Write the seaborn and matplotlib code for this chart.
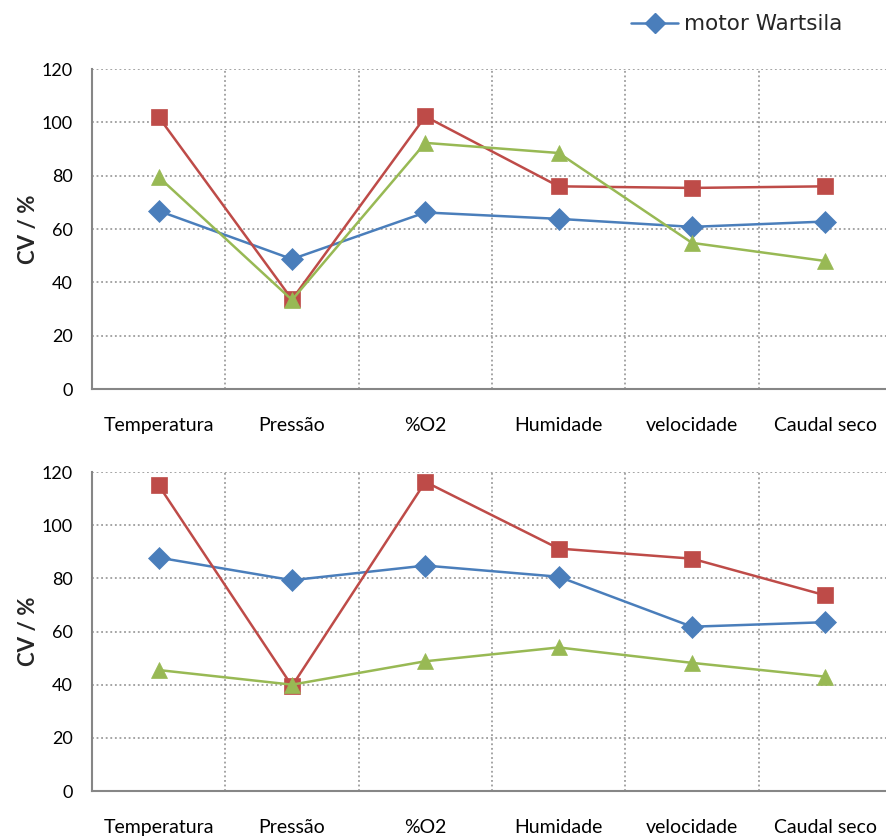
import numpy as np
import pandas as pd
import matplotlib
matplotlib.use("Agg")
import matplotlib.pyplot as plt
from matplotlib.lines import Line2D
import seaborn as sns

# Categories along the x axis
categories = ["Temperatura", "Pressão", "%O2", "Humidade", "velocidade", "Caudal seco"]

# Coefficient of variation (%) per parameter, upper panel
top_blue = [66.8, 48.7, 66.2, 63.8, 60.8, 62.8]
top_red = [102.0, 33.6, 102.2, 76.0, 75.4, 76.0]
top_green = [79.5, 33.4, 92.3, 88.5, 54.8, 48.0]

# Coefficient of variation (%) per parameter, lower panel
bot_blue = [87.8, 79.3, 84.8, 80.6, 61.8, 63.5]
bot_red = [115.0, 39.5, 116.3, 91.2, 87.4, 73.6]
bot_green = [45.5, 40.0, 48.8, 54.0, 48.2, 43.0]

legend_label = "motor Wartsila"
series_keys = ["blue", "red", "green"]
palette = {"blue": "#4A7EBB", "red": "#BE4B48", "green": "#98B954"}
markers = {"blue": "D", "red": "s", "green": "^"}

sns.set_theme(style="white")
plt.rcParams["font.family"] = ["Lato", "DejaVu Sans"]

grid_color = "#8C8C8C"
spine_color = "#868686"


def build_frame(blue, red, green):
    rows = []
    for key, vals in zip(series_keys, [blue, red, green]):
        for i, v in enumerate(vals):
            rows.append({"pos": i, "cv": v, "serie": key})
    return pd.DataFrame(rows)


fig = plt.figure(figsize=(8.86, 8.38), dpi=100)
W, H = 886, 838
ax_top = fig.add_axes([92 / W, 1 - 389 / H, (892 - 92) / W, (389 - 69) / H])
ax_bot = fig.add_axes([92 / W, 1 - 791 / H, (892 - 92) / W, (791 - 472) / H])

for ax, (b, r, g) in [(ax_top, (top_blue, top_red, top_green)),
                      (ax_bot, (bot_blue, bot_red, bot_green))]:
    df = build_frame(b, r, g)
    sns.lineplot(data=df, x="pos", y="cv", hue="serie", style="serie",
                 hue_order=series_keys, style_order=series_keys,
                 palette=palette, markers=markers, dashes=False,
                 markersize=11, linewidth=1.8, sort=False, legend=False, ax=ax)
    for ln in ax.lines:
        ln.set_markeredgecolor(ln.get_color())
        ln.set_markeredgewidth(0.5)
    ax.set_xlim(-0.5, 5.5)
    ax.set_ylim(0, 120)
    ax.set_yticks(np.arange(0, 121, 20))
    ax.set_xticks(np.arange(len(categories)))
    ax.set_xticklabels(categories)
    ax.set_xticks(np.arange(-0.5, 5.6, 1.0), minor=True)
    ax.tick_params(axis="x", which="major", length=0, pad=20, labelsize=14, colors="black")
    ax.tick_params(axis="x", which="minor", length=6, width=1.2, color=spine_color, direction="out")
    ax.tick_params(axis="y", which="major", length=6, width=1.2, color=spine_color,
                   direction="out", pad=8, labelsize=13, labelcolor="black")
    ax.grid(False)
    ax.grid(axis="y", which="major", linestyle=(0, (1.2, 1.8)), color=grid_color, linewidth=1.1)
    ax.grid(axis="x", which="minor", linestyle=(0, (1.2, 1.8)), color=grid_color, linewidth=1.1)
    ax.set_axisbelow(True)
    for side in ["top", "right"]:
        ax.spines[side].set_visible(False)
    for side in ["left", "bottom"]:
        ax.spines[side].set_color(spine_color)
        ax.spines[side].set_linewidth(1.5)
    ax.set_xlabel("")
    ax.set_ylabel("CV / %", fontsize=16, fontweight="bold", labelpad=2)

handle = Line2D([], [], color=palette["blue"], marker="D", markersize=10,
                markeredgecolor=palette["blue"], linewidth=1.8)
fig.legend([handle], [legend_label], loc="upper left",
           bbox_to_anchor=(612 / W, 1 + 5 / H), frameon=False,
           handlelength=2.15, handletextpad=0.3,
           prop={"family": ["DejaVu Sans"], "size": 15.5})

fig.savefig("out.png", dpi=100)
